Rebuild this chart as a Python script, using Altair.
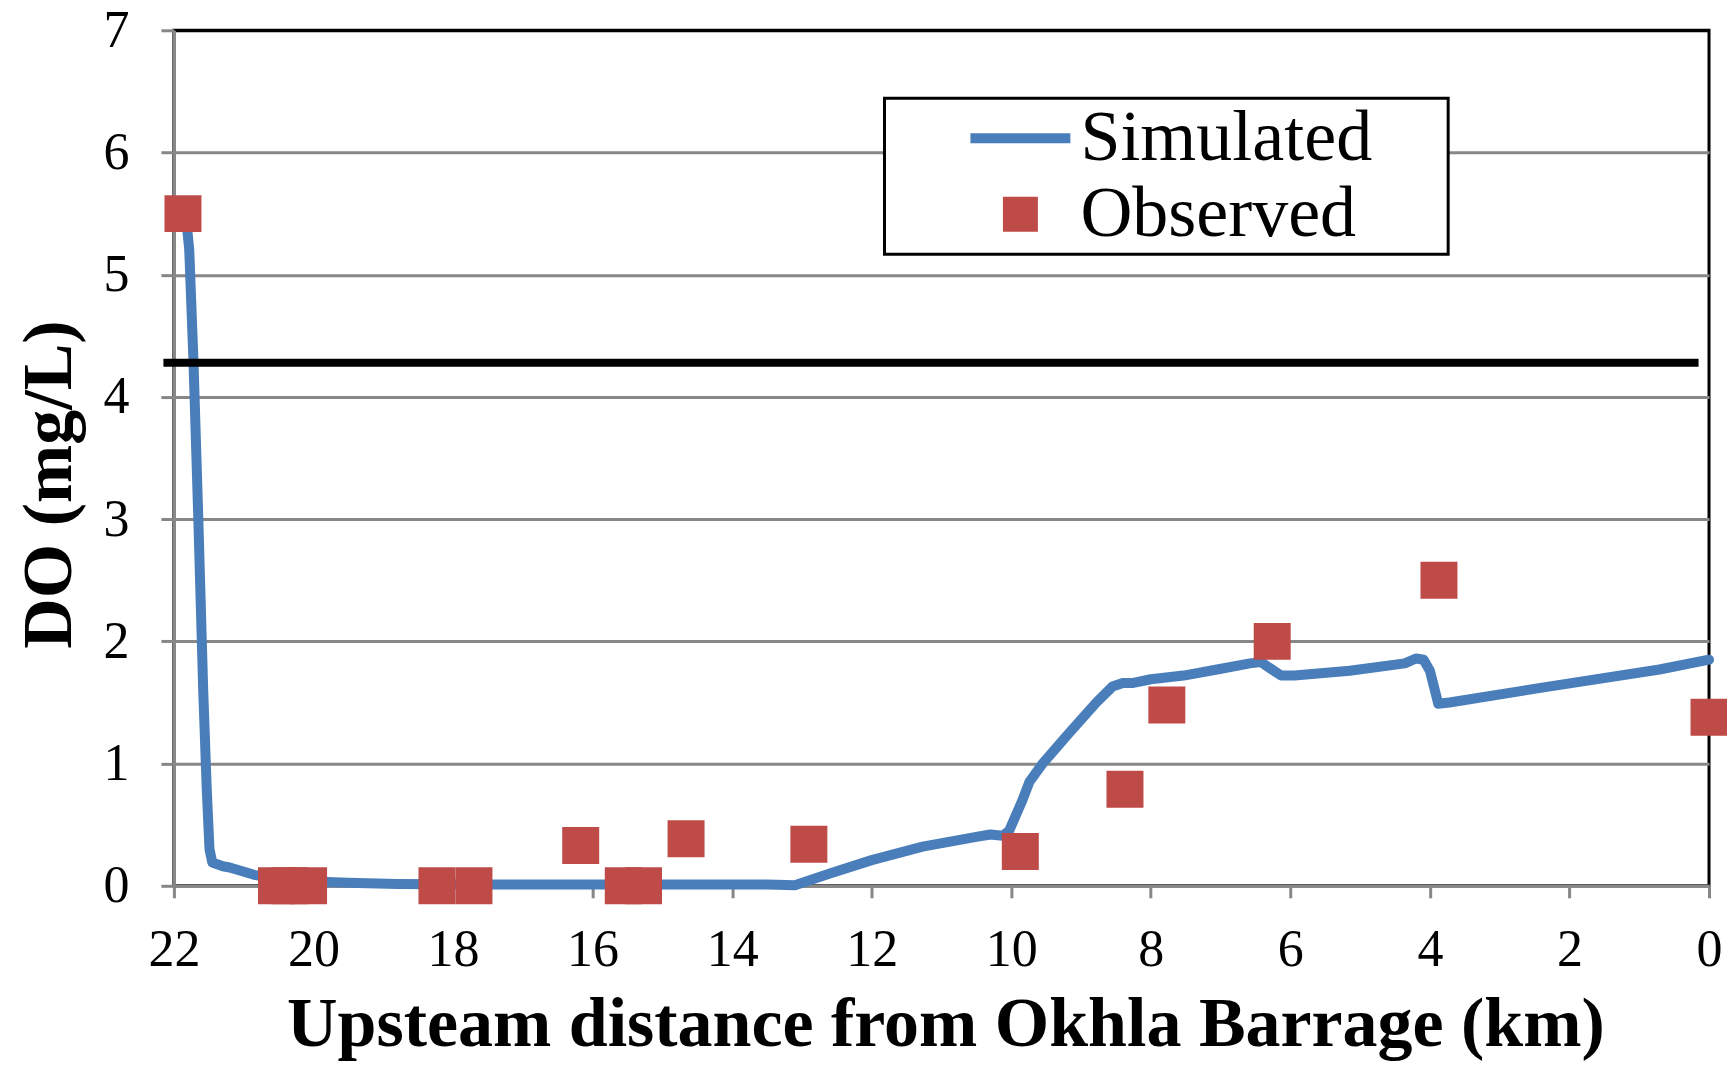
import altair as alt
import pandas as pd

# ---------------- data ----------------
sim_km = [21.83, 21.78, 21.72, 21.65, 21.58, 21.53, 21.49, 21.45, 21.3, 21.2, 20.85,
          20.5, 20.0, 19.5, 18.8, 17.5, 16.0, 14.5, 13.5, 13.1, 12.6, 12.0, 11.27,
          10.5, 10.3, 10.12, 10.03, 9.84, 9.74, 9.55, 9.17, 8.78, 8.55, 8.4, 8.25,
          8.0, 7.53, 7.05, 6.58, 6.42, 6.29, 6.13, 5.94, 5.15, 4.36, 4.2, 4.09, 4.0,
          3.88, 3.72, 2.3, 0.71, 0.0]
sim_do = [5.5, 5.2, 4.3, 3.0, 1.6, 0.8, 0.3, 0.19, 0.16, 0.15, 0.09,
          0.05, 0.035, 0.025, 0.015, 0.01, 0.01, 0.01, 0.01, 0.005, 0.1, 0.21, 0.32,
          0.4, 0.42, 0.41, 0.45, 0.7, 0.85, 1.0, 1.25, 1.5, 1.63, 1.66, 1.66,
          1.69, 1.72, 1.77, 1.82, 1.83, 1.78, 1.72, 1.72, 1.76, 1.82, 1.86, 1.85, 1.76,
          1.49, 1.5, 1.63, 1.77, 1.85]

obs_km = [21.87, 20.53, 20.34, 20.07, 18.23, 17.70, 16.17, 15.56, 15.27, 14.66,
          12.9, 9.87, 8.37, 7.77, 6.26, 3.87, 0.0]
obs_do = [5.5, 0.0, 0.0, 0.0, 0.0, 0.0, 0.33, 0.0, 0.0, 0.385,
          0.34, 0.28, 0.79, 1.48, 2.0, 2.5, 1.38]

std_km = [22.15, 0.15]
std_do = [4.28, 4.28]

series_names = ["Simulated", "Observed"]
series_colors = ["#4A7EBB", "#BE4B48"]
x_ticks = [22, 20, 18, 16, 14, 12, 10, 8, 6, 4, 2, 0]
y_ticks = [0, 1, 2, 3, 4, 5, 6, 7]

x_title = "Upsteam distance from Okhla Barrage (km)"
y_title = "DO (mg/L)"

# ---------------- tables ----------------
sim_df = pd.DataFrame({"km": sim_km, "do": sim_do, "series": "Simulated"})
obs_df = pd.DataFrame({"km": obs_km, "do": obs_do, "series": "Observed"})
std_df = pd.DataFrame({"km": std_km, "do": std_do})

FONT = "Liberation Serif"
GRAY = "#878787"
W, H = 1536, 856
SQUARE = "M-0.25,-0.25H0.25V0.25H-0.25Z"

x_axis = alt.Axis(
    values=x_ticks, format="d", title=x_title, grid=False,
    domainColor=GRAY, domainWidth=3, tickColor=GRAY, tickWidth=3, tickSize=12,
    labelFont=FONT, labelFontSize=52, labelColor="black", labelPadding=27,
    labelFlush=False, labelOverlap=False,
    titleFont=FONT, titleFontSize=70, titleFontWeight="bold", titleColor="black",
    titleBaseline="alphabetic", titleAlign="center", titleX=772, titleY=160,
)
y_axis = alt.Axis(
    values=y_ticks, format="d", title=y_title, grid=True,
    gridColor={"condition": {"test": "datum.value == 7", "value": "black"}, "value": GRAY},
    gridWidth=3, domainColor=GRAY, domainWidth=3, tickColor=GRAY, tickWidth=3, tickSize=13,
    labelFont=FONT, labelFontSize=52, labelColor="black", labelPadding=32,
    labelFlush=False, labelOverlap=False,
    titleFont=FONT, titleFontSize=70, titleFontWeight="bold", titleColor="black",
    titleAngle=270, titleBaseline="alphabetic", titleAlign="center",
    titleX=-103, titleY=454,
)

x_scale = alt.Scale(domain=[22, 0], nice=False, zero=False)
y_scale = alt.Scale(domain=[0, 7], nice=False, zero=False)

pad_right = "\u00a0" * 4 + "\u200b"
legend = alt.Legend(
    orient="none", legendX=711, legendY=68, title=None,
    strokeColor="black", fillColor="white", padding=4,
    labelFont=FONT, labelFontSize=72, labelColor="black", labelLimit=900,
    labelOffset=5, symbolOffset=77, symbolSize=10000, symbolStrokeWidth=10,
    clipHeight=72, rowPadding=4,
    labelExpr="datum.label + '" + pad_right + "'",
)

X = alt.X("km:Q", scale=x_scale, axis=x_axis)
Y = alt.Y("do:Q", scale=y_scale, axis=y_axis)
color_scale = alt.Scale(domain=series_names, range=series_colors)

line = alt.Chart(sim_df).mark_line(strokeWidth=10, strokeJoin="round", strokeCap="round").encode(
    x=X, y=Y,
    color=alt.Color("series:N", scale=color_scale, legend=legend),
)

points = alt.Chart(obs_df).mark_point(filled=True, opacity=1, size=11664, strokeWidth=10).encode(
    x=X, y=Y,
    color=alt.Color("series:N", scale=color_scale, legend=legend),
    stroke=alt.Stroke("series:N", scale=alt.Scale(domain=series_names, range=series_colors), legend=legend),
    shape=alt.Shape("series:N", scale=alt.Scale(domain=series_names, range=["stroke", SQUARE]), legend=legend),
)

std = alt.Chart(std_df).mark_line(color="black", strokeWidth=8, clip=False).encode(x=X, y=Y)

chart = alt.layer(line, points, std).properties(
    width=W, height=H,
    autosize=alt.AutoSizeParams(type="none"),
    padding={"left": 166, "top": 22, "right": 18, "bottom": 175},
    background="white",
).configure_view(
    stroke="black", strokeWidth=3
).configure_legend(
    strokeWidth=3
)

chart.save("out.html", embed_options={"renderer": "svg", "actions": False})
